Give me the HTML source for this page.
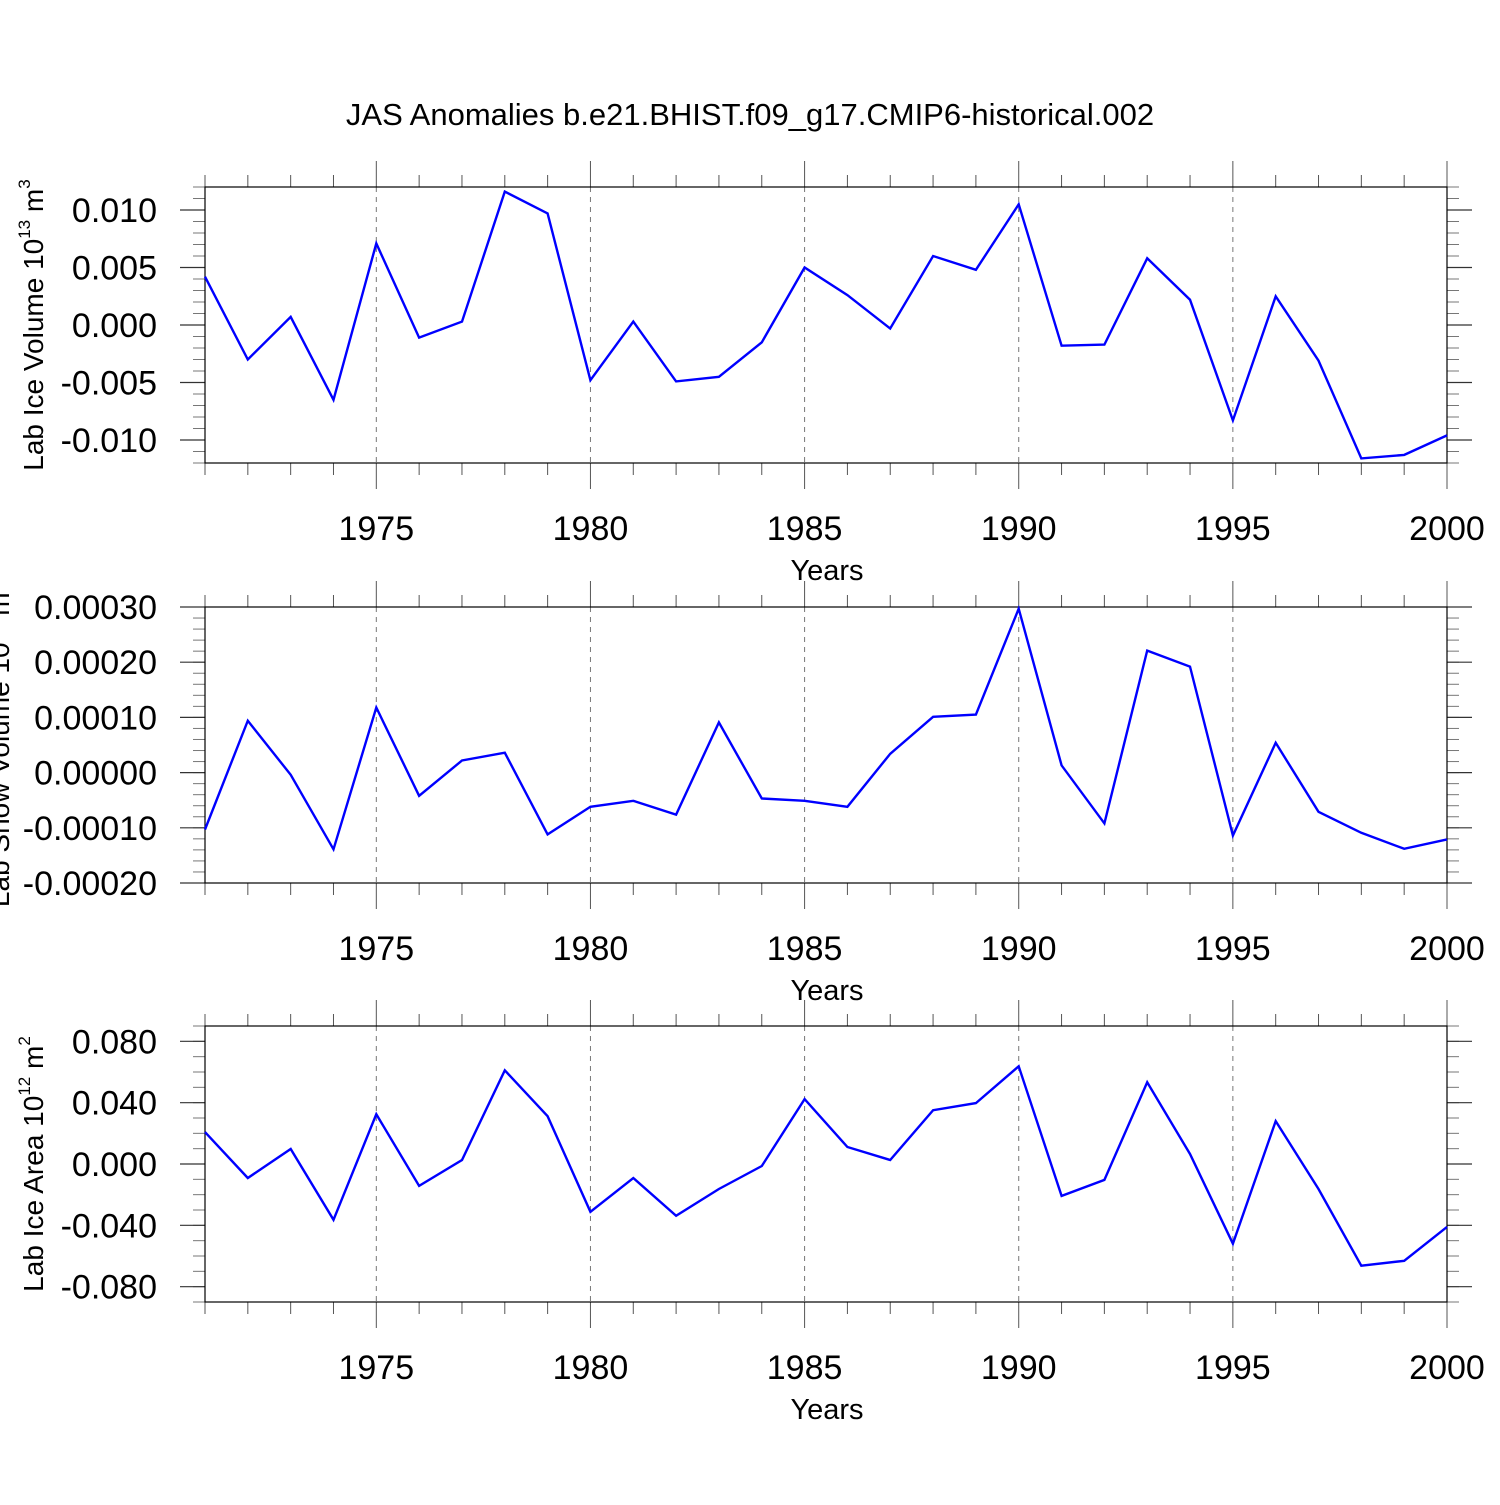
<!DOCTYPE html>
<html><head><meta charset="utf-8"><style>
html,body{margin:0;padding:0;background:#fff}
svg text{font-family:"Liberation Sans",Arial,sans-serif;fill:#000}
</style></head><body>
<svg id="chart" width="1500" height="1500" viewBox="0 0 1500 1500" xmlns="http://www.w3.org/2000/svg">
<text x="750" y="125" font-size="31" text-anchor="middle">JAS Anomalies b.e21.BHIST.f09_g17.CMIP6-historical.002</text>
</svg>
<script>
const years = [1971,1972,1973,1974,1975,1976,1977,1978,1979,1980,1981,1982,1983,1984,1985,1986,1987,1988,1989,1990,1991,1992,1993,1994,1995,1996,1997,1998,1999,2000];
const iceVolume = [0.0042,-0.0030,0.0007,-0.0065,0.0071,-0.0011,0.0003,0.0116,0.0097,-0.0048,0.0003,-0.0049,-0.0045,-0.0015,0.0050,0.0026,-0.0003,0.0060,0.0048,0.0105,-0.0018,-0.0017,0.0058,0.0022,-0.0083,0.0025,-0.0031,-0.0116,-0.0113,-0.0096];
const snowVolume = [-1.03e-4,0.94e-4,-0.04e-4,-1.39e-4,1.18e-4,-0.42e-4,0.22e-4,0.36e-4,-1.12e-4,-0.62e-4,-0.51e-4,-0.76e-4,0.91e-4,-0.47e-4,-0.51e-4,-0.62e-4,0.34e-4,1.01e-4,1.05e-4,2.97e-4,0.13e-4,-0.92e-4,2.21e-4,1.92e-4,-1.14e-4,0.54e-4,-0.71e-4,-1.09e-4,-1.38e-4,-1.21e-4];
const iceArea = [0.0208,-0.0091,0.0098,-0.0364,0.0325,-0.0143,0.0026,0.0611,0.0312,-0.0312,-0.0091,-0.0338,-0.0163,-0.0013,0.0423,0.0111,0.0026,0.0351,0.0397,0.0637,-0.0208,-0.0104,0.0533,0.0065,-0.0520,0.0280,-0.0163,-0.0663,-0.0631,-0.0410];
const xTicks = [1975,1980,1985,1990,1995,2000];
const iceVolTicks = [0.010,0.005,0.000,-0.005,-0.010];
const iceVolTickLabels = ["0.010","0.005","0.000","-0.005","-0.010"];
const snowTicks = [0.0003,0.0002,0.0001,0,-0.0001,-0.0002];
const snowTickLabels = ["0.00030","0.00020","0.00010","0.00000","-0.00010","-0.00020"];
const areaTicks = [0.08,0.04,0,-0.04,-0.08];
const areaTickLabels = ["0.080","0.040","0.000","-0.040","-0.080"];

const NS="http://www.w3.org/2000/svg";
const svg=document.getElementById('chart');
function mk(tag,attrs,parent){const e=document.createElementNS(NS,tag);for(const k in attrs)e.setAttribute(k,attrs[k]);(parent||svg).appendChild(e);return e;}
const X0=205,X1=1447;
function xs(v){return X0+(v-1971)/(2000-1971)*(X1-X0);}

const panels=[
 {name:'ice-volume',top:187,bot:463,ymin:-0.012,ymax:0.012,data:iceVolume,ticks:iceVolTicks,labels:iceVolTickLabels,minor:0.001,label:'Lab Ice Volume 10',sup:'13',unit:' m',usup:'3',lx:33},
 {name:'snow-volume',top:607,bot:883,ymin:-0.0002,ymax:0.0003,data:snowVolume,ticks:snowTicks,labels:snowTickLabels,minor:0.00002,label:'Lab Snow Volume 10',sup:'13',unit:' m',usup:'3',lx:-1},
 {name:'ice-area',top:1026,bot:1302,ymin:-0.09,ymax:0.09,data:iceArea,ticks:areaTicks,labels:areaTickLabels,minor:0.01,label:'Lab Ice Area 10',sup:'12',unit:' m',usup:'2',lx:33}
];
panels.forEach(p=>{
 const g=mk('g',{});
 
 
 const ys=v=>p.bot-(v-p.ymin)/(p.ymax-p.ymin)*(p.bot-p.top);
 xTicks.forEach(t=>{if(t<2000){const l=mk('line',{x1:xs(t),x2:xs(t),y1:p.top,y2:p.bot,stroke:'#777','stroke-width':1,'stroke-dasharray':'5,5'},g);
  
  }});
 years.forEach(yr=>{const maj=xTicks.includes(yr);const len=maj?26:12;const x=xs(yr);
  mk('line',{x1:x,x2:x,y1:p.bot,y2:p.bot+len,stroke:'#555','stroke-width':1},g);
  mk('line',{x1:x,x2:x,y1:p.top,y2:p.top-len,stroke:'#555','stroke-width':1},g);});
 const n=Math.round((p.ymax-p.ymin)/p.minor);
 for(let i=0;i<=n;i++){const v=p.ymin+i*p.minor;const y=ys(v);
  mk('line',{x1:X0-12,x2:X0,y1:y,y2:y,stroke:'#777','stroke-width':1},g);
  mk('line',{x1:X1,x2:X1+12,y1:y,y2:y,stroke:'#777','stroke-width':1},g);}
 p.ticks.forEach((t,i)=>{const y=ys(t);
  mk('line',{x1:X0-25,x2:X0,y1:y,y2:y,stroke:'#333','stroke-width':1.2},g);
  mk('line',{x1:X1,x2:X1+25,y1:y,y2:y,stroke:'#333','stroke-width':1.2},g);
  const tx=mk('text',{x:157,y:y+12,'font-size':34,'text-anchor':'end'},g);
  
  
  tx.textContent=p.labels[i];});
 xTicks.forEach(t=>{const tx=mk('text',{x:xs(t),y:p.bot+77,'font-size':34,'text-anchor':'middle'},g);
  
  
  tx.textContent=t;});
 const xt=mk('text',{x:827,y:p.bot+117,'font-size':29,'text-anchor':'middle'},g);
 
 
 xt.textContent='Years';
 const cy=(p.top+p.bot)/2;
 const yt=mk('text',{x:0,y:0,'font-size':28,'text-anchor':'middle',transform:`translate(${p.lx+10},${cy}) rotate(-90)`},g);
 
 
 yt.innerHTML=`${p.label}<tspan font-size="17" dy="-13">${p.sup}</tspan><tspan dy="13">${p.unit}</tspan><tspan font-size="17" dy="-13">${p.usup}</tspan>`;
 const fr=mk('rect',{x:X0,y:p.top,width:X1-X0,height:p.bot-p.top,fill:'none',stroke:'#000','stroke-width':1.2},g);
 
 
 const pts=years.map((yr,i)=>xs(yr).toFixed(1)+','+ys(p.data[i]).toFixed(1)).join(' ');
 const pl=mk('polyline',{points:pts,fill:'none',stroke:'#0000ff','stroke-width':2.4,'stroke-linejoin':'miter'},g);
 
 
});
</script>
</body></html>
